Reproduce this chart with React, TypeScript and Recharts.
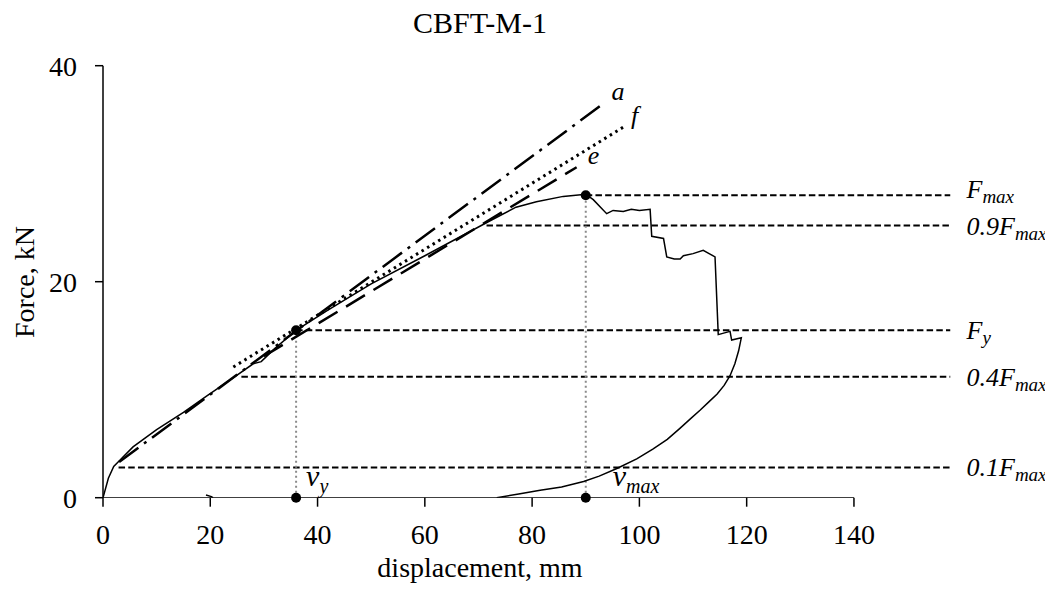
import React from 'react';
import { ComposedChart, Line, XAxis, YAxis, ReferenceDot } from 'recharts';

// measured curve (displacement mm / force kN)
const dispMain = [0, 1, 2, 3, 5.6, 10, 15, 19.3, 24, 28, 29.5, 32, 36, 42, 50, 60, 66, 72, 77, 80.8, 85.8, 90,
  91.4, 93.9, 95.1, 97, 98.5, 100, 102, 102.3, 104.5, 105.1, 106.5, 107.6, 108.2, 110, 111.9, 113, 114.1,
  114.7, 116.9, 117.2, 119, 118.5, 117.8, 116.9, 115.8, 114.5, 113.0, 111.3, 109.5, 107.5, 105.2, 102.5,
  99.5, 95.8, 92.5, 89.6, 85.5, 81.5, 77.5, 73.4];
const forceMain = [0, 1.8, 2.9, 3.4, 4.7, 6.3, 7.9, 9.4, 11.0, 12.4, 12.6, 13.8, 15.5, 17.4, 19.8, 22.4, 24.0, 25.6, 26.9, 27.4, 27.9, 28.1,
  27.6, 26.3, 26.6, 26.5, 26.7, 26.6, 26.7, 24.2, 24.0, 22.3, 22.1, 22.1, 22.4, 22.6, 22.9, 22.6, 22.3,
  15.1, 15.4, 14.6, 14.8, 13.6, 12.4, 11.3, 10.4, 9.6, 8.9, 8.1, 7.3, 6.4, 5.4, 4.5,
  3.6, 2.7, 2.0, 1.5, 1.0, 0.7, 0.35, 0];
const dispTail = [19.2, 20.2, 20.5];
const forceTail = [0.25, 0.1, 0];

// stiffness lines a, e, f: [start, end]
const lineAX = [3, 93.3];
const lineAY = [3.3, 36.5];
const lineEX = [30, 88.3];
const lineEY = [13.1, 30.6];
const lineFX = [24.3, 97.3];
const lineFY = [12.1, 34.4];

// characteristic levels
const levelNames = ['Fmax', '0.9Fmax', 'Fy', '0.4Fmax', '0.1Fmax'];
const levelForce = [28, 25.2, 15.5, 11.2, 2.8];
const levelStart = [90, 71.5, 36, 25.8, 2.9];
const levelEnd = 158;

const vy = 36;
const vmax = 90;
const Fy = 15.5;
const Fmax = 28;

const xTicks = [0, 20, 40, 60, 80, 100, 120, 140];
const yTicks = [0, 20, 40];

const pts = (xs: number[], ys: number[]) => xs.map((x, i) => ({ x, y: ys[i] }));

const FONT = '"Liberation Serif", "Times New Roman", serif';

const XTick = (props: any) => {
  const { x, y, payload } = props;
  return (
    <text x={x} y={y + 35} textAnchor="middle" fontFamily={FONT} fontSize={28} fill="#000">
      {payload.value}
    </text>
  );
};

const YTick = (props: any) => {
  const { x, y, payload } = props;
  return (
    <text x={x - 16} y={y + 10} textAnchor="end" fontFamily={FONT} fontSize={28} fill="#000">
      {payload.value}
    </text>
  );
};

const levelLabel = (name: string) => {
  const main = name.replace('max', '').replace('y', '');
  const sub = name.endsWith('max') ? 'max' : 'y';
  const dy = name === 'Fmax' ? 3 : 9;
  return (props: any) => (
    <text x={props.cx + 16} y={props.cy + dy} fontFamily={FONT} fontStyle="italic" fontSize={26} fill="#000">
      {main}
      <tspan fontSize={19} dy={5}>{sub}</tspan>
    </text>
  );
};

const letter = (ch: string, dx: number, dy: number) => (props: any) => (
  <text x={props.cx + dx} y={props.cy + dy} fontFamily={FONT} fontStyle="italic" fontSize={26} fill="#000">
    {ch}
  </text>
);

const vLabel = (sub: string, dx: number) => (props: any) => (
  <text x={props.cx + dx} y={props.cy - 12} fontFamily={FONT} fontStyle="italic" fontSize={30} fill="#000">
    v<tspan fontSize={20} dy={7}>{sub}</tspan>
  </text>
);

export default function App() {
  // chart spans the full window: the body margin is cancelled
  return (
    <div style={{ position: 'relative', margin: '-8px -8px 0 -8px', width: 1053, height: 586, fontFamily: FONT }}>
      <div style={{ position: 'absolute', left: 480, top: 23, transform: 'translate(-50%,-50%)', fontSize: 30, whiteSpace: 'nowrap' }}>
        CBFT-M-1
      </div>
      <div style={{ position: 'absolute', left: 480, top: 568, transform: 'translate(-50%,-50%)', fontSize: 28, whiteSpace: 'nowrap' }}>
        displacement, mm
      </div>
      <div style={{ position: 'absolute', left: 25, top: 282, transform: 'translate(-50%,-50%) rotate(-90deg)', fontSize: 28, whiteSpace: 'nowrap' }}>
        Force, kN
      </div>
      <ComposedChart width={1053} height={586} margin={{ top: 65.7, right: 102.5, left: 0, bottom: 0 }}>
        <XAxis
          type="number"
          dataKey="x"
          domain={[0, levelEnd]}
          ticks={xTicks}
          axisLine={false}
          tickLine={{ stroke: '#000', strokeWidth: 1.5 }}
          tickSize={9}
          tick={<XTick />}
          height={88.3}
          allowDataOverflow
        />
        <YAxis
          type="number"
          domain={[0, 40]}
          ticks={yTicks}
          axisLine={{ stroke: '#000', strokeWidth: 1.5 }}
          tickLine={{ stroke: '#000', strokeWidth: 1.5 }}
          tickSize={8}
          tick={<YTick />}
          width={103}
          allowDataOverflow
        />
        {/* x axis line only up to 140 */}
        <Line data={pts([0, 140], [0, 0])} dataKey="y" stroke="#000" strokeWidth={1.5} dot={false} isAnimationActive={false} />

        {levelForce.map((f, i) => (
          <Line
            key={levelNames[i]}
            data={pts([levelStart[i], levelEnd], [f, f])}
            dataKey="y"
            stroke="#000"
            strokeWidth={2}
            strokeDasharray="6.5 3.2"
            dot={false}
            isAnimationActive={false}
          />
        ))}

        <Line data={pts([vy, vy], [0, Fy])} dataKey="y" stroke="#8a8a8a" strokeWidth={2} strokeDasharray="2 3" dot={false} isAnimationActive={false} />
        <Line data={pts([vmax, vmax], [0, Fmax])} dataKey="y" stroke="#8a8a8a" strokeWidth={2} strokeDasharray="2 3" dot={false} isAnimationActive={false} />

        <Line data={pts(lineAX, lineAY)} dataKey="y" stroke="#000" strokeWidth={2.5} strokeDasharray="24 7 3 7" dot={false} isAnimationActive={false} />
        <Line data={pts(lineFX, lineFY)} dataKey="y" stroke="#000" strokeWidth={3} strokeDasharray="2.5 4" dot={false} isAnimationActive={false} />
        <Line data={pts(lineEX, lineEY)} dataKey="y" stroke="#000" strokeWidth={2.5} strokeDasharray="22 10" dot={false} isAnimationActive={false} />

        <Line data={pts(dispMain, forceMain)} dataKey="y" stroke="#000" strokeWidth={1.5} dot={false} isAnimationActive={false} />
        <Line data={pts(dispTail, forceTail)} dataKey="y" stroke="#000" strokeWidth={1.5} dot={false} isAnimationActive={false} />

        <ReferenceDot x={vy} y={0} r={5} fill="#000" stroke="none" ifOverflow="visible" />
        <ReferenceDot x={vmax} y={0} r={5} fill="#000" stroke="none" ifOverflow="visible" />
        <ReferenceDot x={vy} y={Fy} r={5} fill="#000" stroke="none" ifOverflow="visible" />
        <ReferenceDot x={vmax} y={Fmax} r={5} fill="#000" stroke="none" ifOverflow="visible" />

        {levelForce.map((f, i) => (
          <ReferenceDot key={'lbl' + i} x={levelEnd} y={f} r={0} ifOverflow="visible" shape={levelLabel(levelNames[i])} />
        ))}
        <ReferenceDot x={lineAX[1]} y={lineAY[1]} r={0} ifOverflow="visible" shape={letter('a', 8, -4)} />
        <ReferenceDot x={lineFX[1]} y={lineFY[1]} r={0} ifOverflow="visible" shape={letter('f', 6, -2)} />
        <ReferenceDot x={lineEX[1]} y={lineEY[1]} r={0} ifOverflow="visible" shape={letter('e', 11, -3)} />
        <ReferenceDot x={vy} y={0} r={0} ifOverflow="visible" shape={vLabel('y', 10)} />
        <ReferenceDot x={vmax} y={0} r={0} ifOverflow="visible" shape={vLabel('max', 27)} />
      </ComposedChart>
    </div>
  );
}
